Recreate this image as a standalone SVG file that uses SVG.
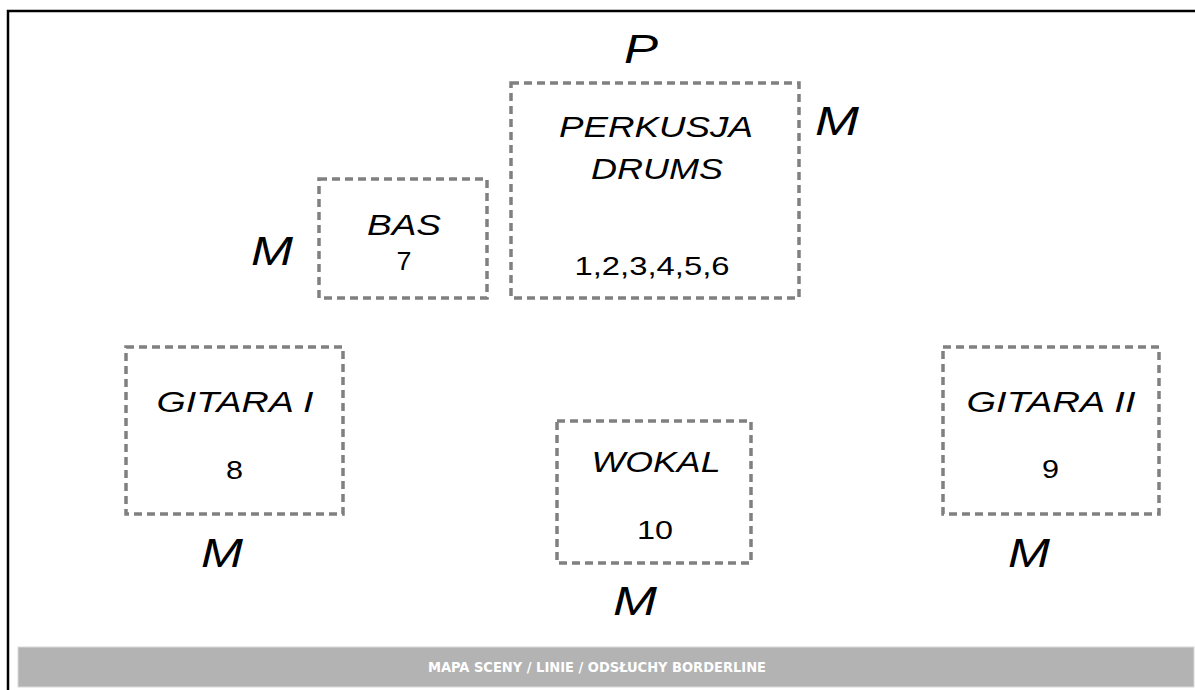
<svg xmlns="http://www.w3.org/2000/svg" width="1195" height="690" viewBox="0 0 1195 690">
<style>
.box{fill:none;stroke:#808080;stroke-width:3.5;stroke-dasharray:8 5}
.name{font-family:"Liberation Sans",Arial,sans-serif;font-style:italic;font-size:30px;fill:#000;text-anchor:middle}
.num{font-family:"Liberation Sans",Arial,sans-serif;font-size:25px;fill:#000;text-anchor:middle}
.mon{font-family:"Liberation Sans",Arial,sans-serif;font-style:italic;font-size:41px;fill:#000;text-anchor:middle}
.foot{font-family:"DejaVu Sans Condensed","DejaVu Sans",sans-serif;font-weight:bold;font-size:14px;fill:#fff;text-anchor:middle}
</style>
<rect width="1195" height="690" fill="#fff"/>
<path d="M8 690 V11 H1195" fill="none" stroke="#000" stroke-width="2.5"/>
<g id="footer">
<rect x="18" y="647" width="1176" height="40" fill="#b3b3b3" stroke="#d9d9d9" stroke-width="1"/>
<text class="foot" x="597" y="672" textLength="338" lengthAdjust="spacingAndGlyphs">MAPA SCENY / LINIE / ODSŁUCHY BORDERLINE</text>
</g>
<g id="perkusja">
<rect class="box" x="511" y="83" width="288" height="215"/>
<text class="name" x="656" y="137" textLength="194" lengthAdjust="spacingAndGlyphs">PERKUSJA</text>
<text class="name" x="657" y="179" textLength="132" lengthAdjust="spacingAndGlyphs">DRUMS</text>
<text class="num" x="652" y="275" textLength="155" lengthAdjust="spacingAndGlyphs">1,2,3,4,5,6</text>
</g>
<g id="bas">
<rect class="box" x="319" y="179" width="168" height="119"/>
<text class="name" x="404" y="235" textLength="74" lengthAdjust="spacingAndGlyphs">BAS</text>
<text class="num" x="404" y="270" textLength="15" lengthAdjust="spacingAndGlyphs">7</text>
</g>
<g id="gitara1">
<rect class="box" x="126" y="347" width="217" height="167"/>
<text class="name" x="235" y="412" textLength="157" lengthAdjust="spacingAndGlyphs">GITARA I</text>
<text class="num" x="234.5" y="479" textLength="17" lengthAdjust="spacingAndGlyphs">8</text>
</g>
<g id="wokal">
<rect class="box" x="557" y="421" width="194" height="142"/>
<text class="name" x="656" y="472" textLength="129" lengthAdjust="spacingAndGlyphs">WOKAL</text>
<text class="num" x="655" y="539" textLength="36" lengthAdjust="spacingAndGlyphs">10</text>
</g>
<g id="gitara2">
<rect class="box" x="943" y="347" width="216" height="167"/>
<text class="name" x="1051" y="412" textLength="169" lengthAdjust="spacingAndGlyphs">GITARA II</text>
<text class="num" x="1050.5" y="478" textLength="17" lengthAdjust="spacingAndGlyphs">9</text>
</g>
<g id="labels">
<text class="mon" x="641" y="63" textLength="34" lengthAdjust="spacingAndGlyphs">P</text>
<text class="mon" x="837" y="135" textLength="44" lengthAdjust="spacingAndGlyphs">M</text>
<text class="mon" x="272" y="265" textLength="42" lengthAdjust="spacingAndGlyphs">M</text>
<text class="mon" x="222" y="567" textLength="42" lengthAdjust="spacingAndGlyphs">M</text>
<text class="mon" x="635" y="615" textLength="44" lengthAdjust="spacingAndGlyphs">M</text>
<text class="mon" x="1029" y="567" textLength="42" lengthAdjust="spacingAndGlyphs">M</text>
</g>
<g id="connectors"></g>
</svg>
